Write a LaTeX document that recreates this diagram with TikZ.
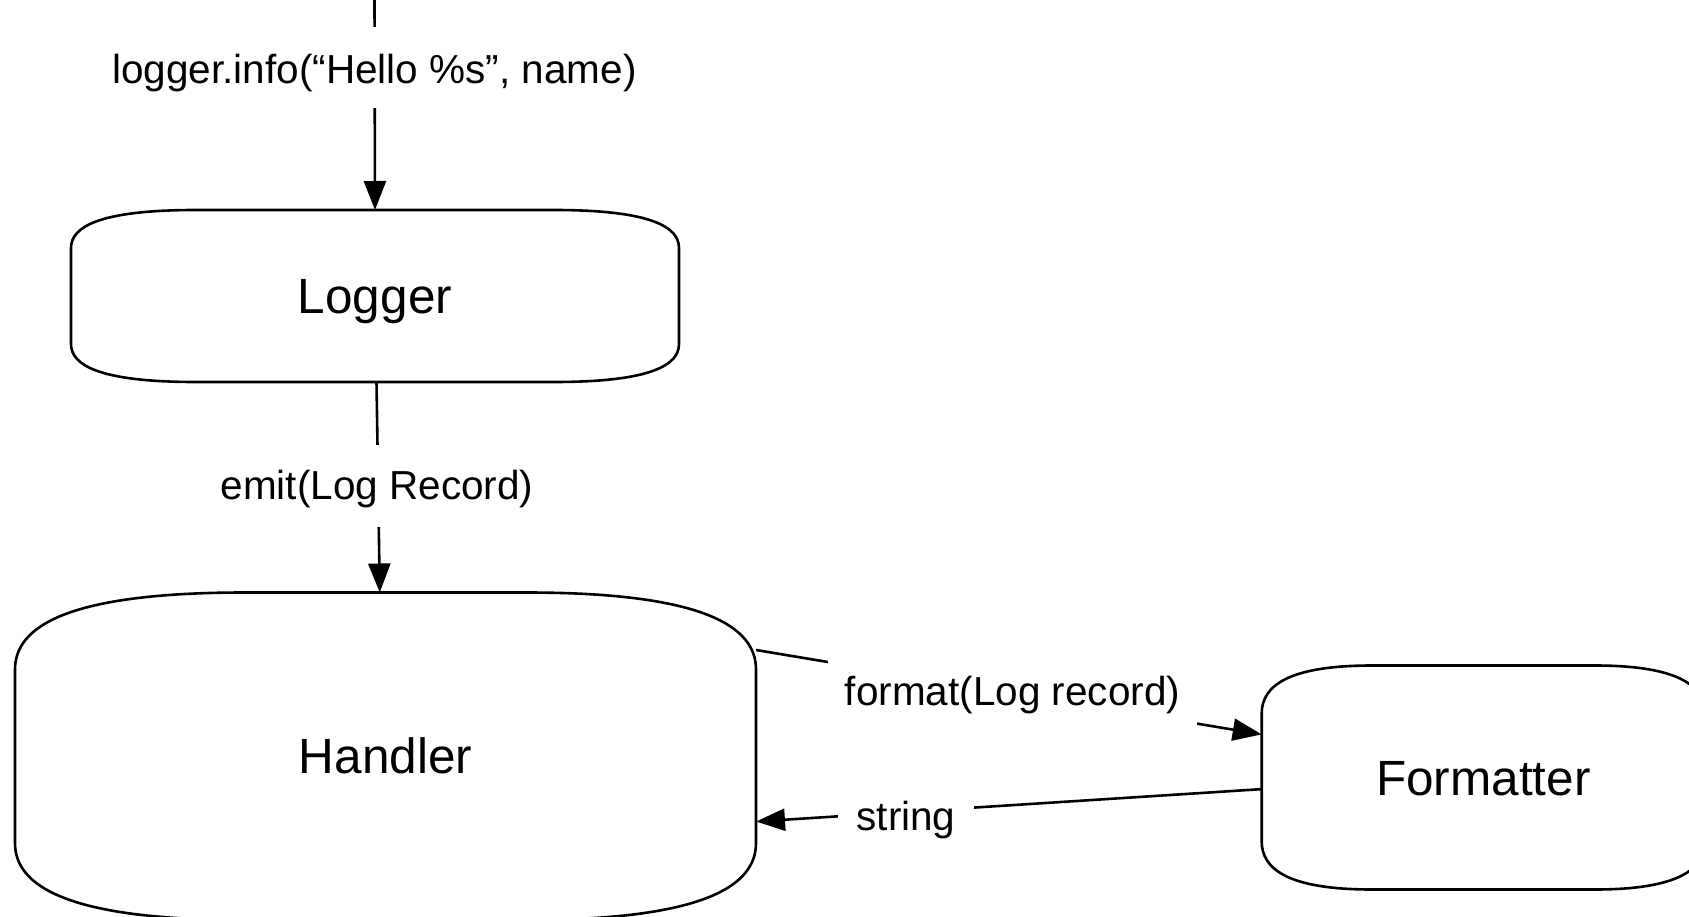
\documentclass[tikz,border=0pt]{standalone}
\usepackage{fontspec}
\setmainfont{Liberation Sans}
\usetikzlibrary{arrows.meta,calc}
\tikzset{
  boxline/.style={line width=2.6pt, line join=round},
  holder/.style={rectangle, draw=none, inner sep=0pt, outer sep=0pt,
    text height=35.4pt, text depth=0pt, font=\fontsize{49.5}{58}\selectfont},
  conn/.style={line width=2.6pt, -{Triangle[length=29pt,width=22pt]}},
  edgelbl/.style={fill=white, inner sep=0pt, outer sep=0pt, anchor=base,
    font=\fontsize{40.5}{48}\selectfont}
}
\newcommand\softbox[3]{%
  \draw[boxline]
   ($(#1.north west)+(0,#3)$)
   .. controls ($(#1.north west)+(0,#3*0.45)$) and ($(#1.north west)+(#2*0.22,0)$) .. ($(#1.north west)+(#2,0)$)
   -- ($(#1.north east)+(-#2,0)$)
   .. controls ($(#1.north east)+(-#2*0.22,0)$) and ($(#1.north east)+(0,#3*0.45)$) .. ($(#1.north east)+(0,#3)$)
   -- ($(#1.south east)+(0,-#3)$)
   .. controls ($(#1.south east)+(0,-#3*0.45)$) and ($(#1.south east)+(-#2*0.22,0)$) .. ($(#1.south east)+(-#2,0)$)
   -- ($(#1.south west)+(#2,0)$)
   .. controls ($(#1.south west)+(#2*0.22,0)$) and ($(#1.south west)+(0,-#3*0.45)$) .. ($(#1.south west)+(0,-#3)$)
   -- cycle;}
\begin{document}
\begin{tikzpicture}[x=1pt,y=-1pt]
\useasboundingbox (0,0) rectangle (1689,917);
\clip (0,0) rectangle (1689,917);

% boxes
\node[holder, minimum width=608pt, minimum height=172pt] (logger) at (375,296) {Logger};
\node[holder, minimum width=741pt, minimum height=327.5pt] (handler) at (385.5,756.25) {Handler};
\node[holder, minimum width=443.3pt, minimum height=224pt] (formatter) at (1483.35,777.5) {Formatter};
\softbox{logger}{125}{38}
\softbox{handler}{230}{77}
\softbox{formatter}{110}{48}

% connectors
\coordinate (src) at (374.5,0);
\draw[conn] (src) -- (logger.north);
\draw[conn] (logger.-89.5) -- (handler.92.1);
\draw[conn] (handler.16.7) -- (formatter.169.65);
\draw[conn] (formatter.183.9) -- (handler.-10.85);

% labels
\node[edgelbl, text height=57pt, text depth=24pt, inner xsep=4pt] (lcall) at (374.5,84) {logger.info(“Hello \%s”, name)};
\node[edgelbl, text height=54pt, text depth=27.7pt, inner xsep=4pt] (lemit) at (377,499) {emit(Log Record)};
\node[edgelbl, text height=49pt, text depth=25pt, minimum width=369pt] (lfmt) at (1012.6,705) {format(Log record)};
\node[edgelbl, text height=32pt, text depth=12pt, minimum width=136pt] (lstr) at (906,830) {string};
\end{tikzpicture}
\end{document}
